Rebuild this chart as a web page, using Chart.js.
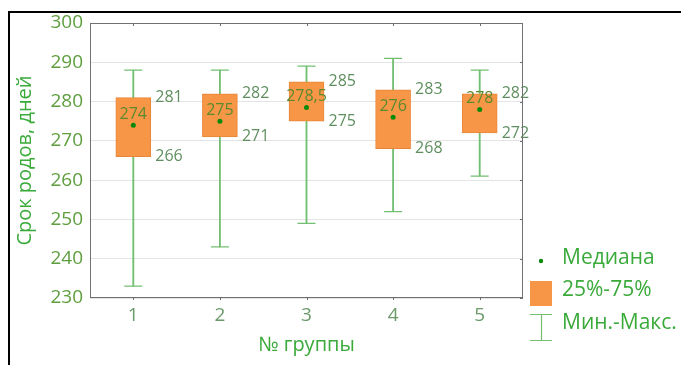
<!DOCTYPE html>
<html>
<head>
<meta charset="utf-8">
<script src="https://cdn.jsdelivr.net/npm/chart.js@4/dist/chart.umd.min.js"></script>
<style>
  body { margin: 0; background: #fff; }
  #frame { position: absolute; left: 8px; top: 11px; width: 680px; height: 360px;
           border-left: 2px solid #000; border-top: 2px solid #000; }
  #boxChart { position: absolute; left: 0; top: 0; }
</style>
</head>
<body>
<div id="frame"></div>
<canvas id="boxChart" width="681" height="365"></canvas>
<script>
'use strict'

// данные по группам
const groups = ["1", "2", "3", "4", "5"];
const minValues = [233, 243, 249, 252, 261];
const q1Values = [266, 271, 275, 268, 272];
const medianValues = [274, 275, 278.5, 276, 278];
const q3Values = [281, 282, 285, 283, 282];
const maxValues = [288, 288, 289, 291, 288];
const legendLabels = ["Медиана", "25%-75%", "Мин.-Макс."];

const FONT = "'Open Sans', 'Noto Sans', sans-serif";
const boxColor = "#F79646";
const whiskerColor = "#72bf72";
const medianColor = "#0a8a0a";

// рамка области построения + подписи
const boxLabels = {
    id: 'boxLabels',
    afterDatasetsDraw(chart) {
        const c = chart.ctx;
        const xs = chart.scales.x, ys = chart.scales.y;
        c.save();
        c.textBaseline = 'middle';
        groups.forEach((g, i) => {
            const x = xs.getPixelForValue(i);
            c.font = "16px " + FONT;
            c.fillStyle = "#5a8a2e";
            c.textAlign = 'center';
            c.fillText(String(medianValues[i]).replace('.', ','), x, ys.getPixelForValue(medianValues[i]) - 11);
            c.fillStyle = "#5f8f5f";
            c.textAlign = 'left';
            c.fillText(String(q3Values[i]), x + 22, ys.getPixelForValue(q3Values[i]));
            c.fillText(String(q1Values[i]), x + 22, ys.getPixelForValue(q1Values[i]));
        });
        c.restore();
    },
    afterDraw(chart) {
        const c = chart.ctx;
        const a = chart.chartArea;
        const xs = chart.scales.x, ys = chart.scales.y;
        c.save();
        c.strokeStyle = "#707070";
        c.lineWidth = 1;
        c.strokeRect(a.left + 0.5, a.top + 0.5, a.right - a.left - 1, a.bottom - a.top - 1);
        c.beginPath();
        groups.forEach((g, i) => {
            const x = Math.round(xs.getPixelForValue(i)) + 0.5;
            c.moveTo(x, a.top); c.lineTo(x, a.top + 3);
            c.moveTo(x, a.bottom); c.lineTo(x, a.bottom + 2);
        });
        ys.ticks.forEach(t => {
            const y = Math.round(ys.getPixelForValue(t.value)) + 0.5;
            c.moveTo(a.right, y); c.lineTo(a.right - 3, y);
        });
        c.stroke();

        // легенда
        const lx = 530, tx = 562;
        c.fillStyle = medianColor;
        c.beginPath(); c.arc(541, 261, 2.2, 0, Math.PI * 2); c.fill();
        c.fillStyle = boxColor;
        c.fillRect(530, 281, 22, 25);
        c.strokeStyle = whiskerColor;
        c.lineWidth = 1.2;
        c.beginPath();
        c.moveTo(lx, 314.5); c.lineTo(lx + 22, 314.5);
        c.moveTo(lx + 11.5, 314); c.lineTo(lx + 11.5, 340);
        c.moveTo(lx, 340.5); c.lineTo(lx + 22, 340.5);
        c.stroke();
        c.font = "21px " + FONT;
        c.fillStyle = "#3aaa3a";
        c.textAlign = 'left';
        c.textBaseline = 'middle';
        c.fillText(legendLabels[0], tx, 258);
        c.fillText(legendLabels[1], tx, 290);
        c.fillText(legendLabels[2], tx, 323);
        c.restore();
    }
};

new Chart(document.getElementById("boxChart"), {
    data: {
        labels: groups,
        datasets: [
            {
                type: 'line', label: 'median', data: medianValues, showLine: false, order: 0,
                pointStyle: 'circle', pointRadius: 2.5, pointBackgroundColor: medianColor,
                pointBorderWidth: 0
            },
            {
                type: 'bar', label: 'box', order: 1, grouped: false,
                data: groups.map((g, i) => [q1Values[i], q3Values[i]]),
                backgroundColor: boxColor, borderColor: "#e9863a", borderWidth: 1,
                borderSkipped: false, barThickness: 35
            },
            {
                type: 'line', label: 'max', data: maxValues, showLine: false, order: 2,
                pointStyle: 'line', pointRadius: 9, pointBorderColor: whiskerColor, pointBorderWidth: 1.2
            },
            {
                type: 'line', label: 'min', data: minValues, showLine: false, order: 2,
                pointStyle: 'line', pointRadius: 9, pointBorderColor: whiskerColor, pointBorderWidth: 1.2
            },
            {
                type: 'bar', label: 'whisker', order: 3, grouped: false,
                data: groups.map((g, i) => [minValues[i], maxValues[i]]),
                backgroundColor: whiskerColor, borderWidth: 0, barThickness: 1.2
            }
        ]
    },
    options: {
        responsive: false,
        animation: false,
        layout: { padding: { left: 0, top: 23, right: 158, bottom: 0 } },
        plugins: {
            legend: { display: false },
            tooltip: { enabled: false }
        },
        scales: {
            x: {
                type: 'category',
                offset: true,
                grid: { display: false, drawTicks: false },
                border: { display: false },
                ticks: { color: "#6a9a6a", font: { family: FONT, size: 19 }, padding: 6 },
                title: { display: true, text: "№ группы", color: "#3aaa3a",
                         font: { family: FONT, size: 20 }, padding: { bottom: 8 } },
                afterFit(scale) { scale.height = 67; }
            },
            y: {
                min: 230, max: 300,
                grid: { color: "#e4e4e4", drawTicks: false },
                border: { display: false },
                ticks: { stepSize: 10, color: "#5e9e3e", font: { family: FONT, size: 19 }, padding: 7 },
                title: { display: true, text: "Срок родов, дней", color: "#3aaa3a",
                         font: { family: FONT, size: 20 }, padding: { top: 13 } },
                afterFit(scale) { scale.width = 90; }
            }
        }
    },
    plugins: [boxLabels]
});
</script>
</body>
</html>
